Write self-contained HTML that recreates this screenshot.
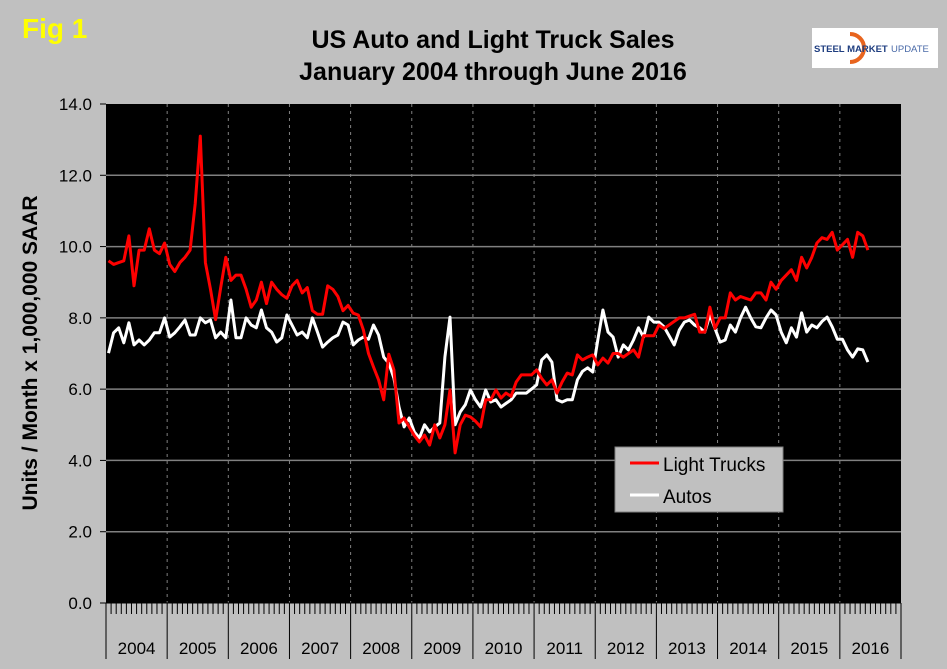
<!DOCTYPE html>
<html><head><meta charset="utf-8"><style>
html,body{margin:0;padding:0;background:#c0c0c0;}
svg{display:block;font-family:"Liberation Sans",Arial,sans-serif;}
</style></head><body>
<svg id="chart" width="947" height="669" viewBox="0 0 947 669">
<rect x="0" y="0" width="947" height="669" fill="#c0c0c0"/>
<text x="22" y="38" font-size="28" font-weight="bold" fill="#ffff00">Fig 1</text>
<text x="493" y="48" font-size="25" font-weight="bold" text-anchor="middle" fill="#000">US Auto and Light Truck Sales</text>
<text x="493" y="80" font-size="25" font-weight="bold" text-anchor="middle" fill="#000">January 2004 through June 2016</text>
<g>
<rect x="812" y="28" width="126" height="40" fill="#fff"/>
<path d="M850 34 A14 14 0 1 1 850 62" fill="none" stroke="#e8641e" stroke-width="4"/>
<text x="814" y="52" font-size="9.5" font-weight="bold" fill="#1f3e80">STEEL MARKET</text>
<text x="891" y="52" font-size="9.5" fill="#4a6aa8">UPDATE</text>
</g>
<rect x="106" y="104" width="795" height="499" fill="#000"/>
<g id="grid"></g>
<g id="axes"></g>
<g id="series"></g>
<text transform="translate(37,353) rotate(-90)" font-size="21" font-weight="bold" text-anchor="middle" fill="#000">Units / Month x 1,000,000 SAAR</text>
<g>
<rect x="615" y="447" width="168" height="65" fill="#c0c0c0" stroke="#808080" stroke-width="1"/>
<line x1="630" y1="463" x2="659" y2="463" stroke="#ff0000" stroke-width="3"/>
<text x="663" y="471" font-size="19" fill="#000">Light Trucks</text>
<line x1="630" y1="495" x2="659" y2="495" stroke="#ffffff" stroke-width="3"/>
<text x="663" y="503" font-size="19" fill="#000">Autos</text>
</g>
</svg>
<script>
const years = ["2004","2005","2006","2007","2008","2009","2010","2011","2012","2013","2014","2015","2016"];
const yTicks = [0,2,4,6,8,10,12,14];
const lightTrucks = [
9.6,9.5,9.55,9.6,10.3,8.9,9.9,9.9,10.5,9.9,9.8,10.1,
9.5,9.3,9.55,9.7,9.9,11.2,13.1,9.55,8.8,7.95,8.85,9.7,
9.05,9.2,9.2,8.8,8.3,8.5,9.0,8.4,9.0,8.8,8.65,8.55,
8.9,9.05,8.7,8.85,8.2,8.1,8.1,8.9,8.8,8.6,8.2,8.35,
8.13,8.08,7.66,7.0,6.62,6.26,5.7,6.98,6.54,5.05,5.19,4.94,
4.7,4.52,4.71,4.43,5.0,4.63,5.0,5.98,4.21,5.0,5.27,5.22,
5.1,4.94,5.7,5.7,5.98,5.75,5.89,5.8,6.2,6.4,6.4,6.4,
6.54,6.3,6.12,6.26,5.89,6.2,6.45,6.4,6.96,6.82,6.9,6.96,
6.68,6.87,6.73,7.0,7.0,6.9,7.0,7.1,6.9,7.5,7.5,7.5,
7.8,7.7,7.8,7.9,8.0,8.0,8.05,8.1,7.6,7.6,8.3,7.7,
8.0,8.0,8.7,8.5,8.6,8.55,8.5,8.7,8.7,8.5,9.0,8.8,
9.05,9.2,9.35,9.05,9.7,9.4,9.7,10.1,10.25,10.2,10.4,9.9,
10.05,10.2,9.7,10.4,10.3,9.9];
const autos = [
7.01,7.58,7.72,7.3,7.86,7.24,7.38,7.24,7.38,7.58,7.58,8.0,
7.46,7.58,7.75,7.94,7.52,7.52,8.0,7.86,7.94,7.44,7.6,7.44,
8.5,7.44,7.44,8.0,7.8,7.72,8.22,7.72,7.6,7.32,7.44,8.08,
7.8,7.52,7.6,7.44,8.0,7.6,7.18,7.32,7.44,7.52,7.88,7.8,
7.24,7.38,7.46,7.4,7.8,7.52,6.9,6.73,6.31,5.5,4.94,5.19,
4.8,4.63,5.0,4.8,4.94,5.05,6.9,8.02,5.0,5.36,5.56,5.98,
5.7,5.5,5.98,5.64,5.7,5.5,5.6,5.7,5.89,5.89,5.89,6.0,
6.12,6.82,6.96,6.76,5.7,5.64,5.7,5.7,6.26,6.5,6.6,6.48,
7.38,8.22,7.6,7.46,6.9,7.24,7.1,7.38,7.72,7.46,8.02,7.88,
7.88,7.75,7.5,7.24,7.66,7.88,7.94,7.8,7.72,7.6,8.08,7.7,
7.32,7.38,7.8,7.6,8.0,8.3,8.0,7.75,7.72,8.0,8.22,8.08,
7.6,7.3,7.72,7.46,8.14,7.6,7.8,7.72,7.9,8.02,7.75,7.4,
7.4,7.1,6.9,7.13,7.1,6.76];

const X0=106, X1=901, Y0=603, Y1=104, YMAX=14;
const nMonths = years.length*12;
const mw = (X1-X0)/nMonths;
function xScale(i){ return X0 + (i+0.5)*mw; }
function yScale(v){ return Y0 - v/YMAX*(Y0-Y1); }
const NS="http://www.w3.org/2000/svg";
function mk(tag, attrs, parent){ const e=document.createElementNS(NS,tag); for(const k in attrs) e.setAttribute(k,attrs[k]); parent.appendChild(e); return e; }
const grid=document.getElementById('grid'), axes=document.getElementById('axes'), series=document.getElementById('series');

yTicks.forEach(v=>{
  const y=yScale(v);
  if(v>0 && v<YMAX){
    const g=mk('line',{x1:X0,x2:X1,y1:y,y2:y,stroke:'#808080','stroke-width':1.5},grid);
    
    
  }
  const t=mk('line',{x1:X0-6,x2:X0,y1:y,y2:y,stroke:'#000','stroke-width':1},axes);
  
  
  const l=mk('text',{x:X0-14,y:y+6,'font-size':17,'text-anchor':'end',fill:'#000'},axes);
  l.textContent=v.toFixed(1);
  
  
});
for(let yi=1; yi<years.length; yi++){
  const x=X0+yi*12*mw;
  const g=mk('line',{x1:x,x2:x,y1:Y1,y2:Y0,stroke:'#808080','stroke-width':1,'stroke-dasharray':'3,4'},grid);
  
  
}
for(let i=0;i<=nMonths;i++){
  const x=X0+i*mw;
  const isYear = i%12===0;
  const t=mk('line',{x1:x,x2:x,y1:Y0,y2:isYear?659:614,stroke:'#000','stroke-width':1},axes);
  
  
}
mk('line',{x1:X0,x2:X1,y1:Y0,y2:Y0,stroke:'#000','stroke-width':1},axes);
years.forEach((yr,i)=>{
  const l=mk('text',{x:X0+(i*12+6)*mw,y:654,'font-size':17,'text-anchor':'middle',fill:'#000'},axes);
  l.textContent=yr;
  
  
});
function drawLine(vals,color,name){
  const pts=vals.map((v,i)=>xScale(i).toFixed(1)+','+yScale(v).toFixed(1)).join(' ');
  const p=mk('polyline',{points:pts,fill:'none',stroke:color,'stroke-width':3,'stroke-linejoin':'round'},series);
  
  
}
drawLine(autos,'#ffffff','autos-line');
drawLine(lightTrucks,'#ff0000','light-trucks-line');
</script>
</body></html>
